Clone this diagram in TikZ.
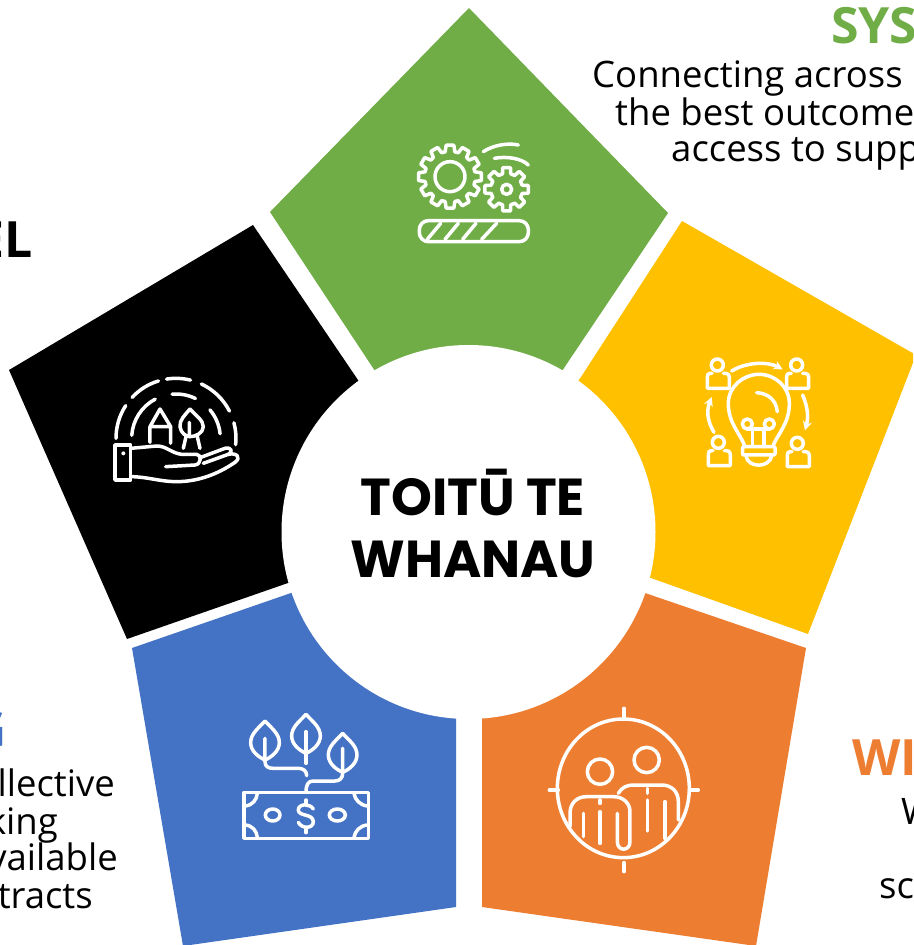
\documentclass[tikz,border=0pt]{standalone}
\usepackage{fontspec}
\setmainfont{Open Sans}
\newfontfamily\titlefont{Poppins}
\usetikzlibrary{arrows.meta}
\definecolor{cgreen}{HTML}{70AD47}
\definecolor{cyellow}{HTML}{FFC000}
\definecolor{corange}{HTML}{ED7D31}
\definecolor{cblue}{HTML}{4472C4}
\tikzset{
  icon/.style={draw=white,line width=3.5pt,line cap=round,line join=round},
  zoomed/.style={x=0.3333pt,y=-0.3333pt},
  body/.style={font=\fontsize{36.5}{36.5}\selectfont,text=black,inner sep=0pt},
  head/.style={font=\fontsize{50}{50}\selectfont\bfseries,inner sep=0pt},
  title/.style={font=\titlefont\fontsize{52}{52}\selectfont\bfseries,text=black,inner sep=0pt},
}
% gear: cx cy outer root teeth halfwidth-outer halfwidth-root
\newcommand{\mygear}[7]{%
  \draw[icon] ({#1+#4*cos(-#7)},{#2+#4*sin(-#7)})
   \foreach \i in {0,...,\numexpr#5-1\relax}{
     -- ({#1+#4*cos(\i*360/#5-#7)},{#2+#4*sin(\i*360/#5-#7)})
     -- ({#1+#3*cos(\i*360/#5-#6)},{#2+#3*sin(\i*360/#5-#6)})
     -- ({#1+#3*cos(\i*360/#5+#6)},{#2+#3*sin(\i*360/#5+#6)})
     -- ({#1+#4*cos(\i*360/#5+#7)},{#2+#4*sin(\i*360/#5+#7)})
   } -- cycle;}
% person in zoom units
\newcommand{\myperson}[2]{%
  \begin{scope}[shift={(#1,#2)}]
    \draw[icon] (82,60) circle (18);
    \draw[icon] (66,85) -- (60,85) .. controls (54,85) and (52,90) .. (52,96) -- (52,130) -- (118,130) -- (118,96) .. controls (118,90) and (114,85) .. (108,85) -- (100,85);
  \end{scope}}
% dashed ring arc
\newcommand{\myarc}[5]{%
  \draw[icon] ({#1+#3*cos(#4)},{#2-#3*sin(#4)}) arc[start angle=-#4,end angle=-#5,radius=#3];}
\begin{document}
\begin{tikzpicture}[x=1pt,y=-1pt]
\useasboundingbox (0,0) rectangle (913,945);
\clip (0,0) rectangle (913,945);
\fill[white] (0,0) rectangle (913,945);
% petals
\fill[cgreen] (270,212) -- (469,8) -- (668,213) -- (562,371) -- (468,533) -- (375,371) -- cycle;
\fill[cyellow] (682,221) -- (916,355) -- (808,634) -- (651,578) -- (468,533) -- (581,377) -- cycle;
\fill[corange] (645,593) -- (806,648) -- (756,946) -- (482,907) -- (482,700) -- (468,533) -- cycle;
\fill[cblue] (132,648) -- (291,593) -- (468,533) -- (456,700) -- (456,907) -- (183,946) -- cycle;
\fill[black] (253,225) -- (358,380) -- (468,533) -- (288,583) -- (127,639) -- (9,370) -- cycle;
\node[circle,fill=white,minimum size=374pt,inner sep=0pt] (hub) at (468.5,532) {};
\node[title,anchor=base] (t1) at (473,515) {TOITŪ TE};
\node[title,anchor=base] (t2) at (473,577) {WHANAU};
% side texts
\node[head,text=cgreen,anchor=base west] (h1) at (831,43) {SYS};
\node[body,anchor=base west] (b1) at (592,87) {Connecting across};
\node[body,anchor=base west] (b2) at (615,125) {the best outcome};
\node[body,anchor=base west] (b3) at (671,161) {access to supp};
\node[head,text=black,anchor=base east] (h2) at (32.5,257) {EL};
\node[head,text=cblue,anchor=base east] (h3) at (7,747) {G};
\node[body,anchor=base east] (l1) at (115,796) {llective};
\node[body,anchor=base east] (l2) at (58,834) {king};
\node[body,anchor=base east] (l3) at (118,870) {vailable};
\node[body,anchor=base east] (l4) at (93,908) {tracts};
\node[head,text=corange,anchor=base west] (h4) at (852,775) {WI};
\node[body,anchor=base west] (r1) at (901,824) {W};
\node[body,anchor=base west] (r2) at (879,898) {sc};
% gears
\begin{scope}[shift={(400,130)},zoomed]
  \mygear{150}{140}{95}{76}{12}{7}{11}
  \draw[icon] (150,140) circle (45);
  \mygear{320}{178}{66}{48}{8}{10}{15}
  \draw[icon] (320,178) circle (15);
  \draw[icon] (250,65) .. controls (280,45) and (325,38) .. (355,45);
  \draw[icon] (283,85) .. controls (320,78) and (365,85) .. (385,105);
  \draw[icon,rounded corners=9pt] (58,272) rectangle (385,335);
  \draw[icon] (82,328) -- (122,280) (135,328) -- (175,280) (188,328) -- (228,280) (245,328) -- (290,280);
\end{scope}
% bulb
\begin{scope}[shift={(690,345)},zoomed]
  \myperson{0}{0}
  \myperson{238}{0}
  \myperson{3}{232}
  \myperson{240}{235}
  \draw[icon] (163,300) .. controls (150,265) and (115,235) .. (115,175) .. controls (115,125) and (160,88) .. (207,88) .. controls (255,88) and (298,125) .. (298,175) .. controls (298,235) and (265,265) .. (250,300);
  \draw[icon,rounded corners=1pt] (158,305) rectangle (255,330);
  \draw[icon] (168,332) .. controls (172,370) and (240,370) .. (245,332);
  \draw[icon] (200,143) .. controls (235,145) and (258,165) .. (262,200);
  \draw[icon] (172,237) circle (15) (238,237) circle (15);
  \draw[icon] (172,252) -- (238,252) (187,252) -- (187,305) (222,252) -- (222,305);
  \draw[icon,-{Stealth[length=9pt,width=9pt]}] (125,78) .. controls (170,50) and (235,50) .. (278,73);
  \draw[icon,-{Stealth[length=9pt,width=9pt]}] (338,150) .. controls (355,190) and (355,220) .. (345,256);
  \draw[icon,-{Stealth[length=9pt,width=9pt]}] (72,262) .. controls (50,225) and (50,195) .. (65,156);
\end{scope}
% people
\begin{scope}[shift={(530,695)},zoomed]
  \draw[icon] (280,280) ellipse [x radius=198,y radius=208];
  \draw[icon] (282,40) -- (282,68) (282,503) -- (282,530) (58,285) -- (85,285) (478,285) -- (505,285);
  \draw[icon] (210,230) circle (38) (350,195) circle (38);
  \draw[icon] (120,395) -- (120,355) .. controls (120,325) and (140,305) .. (170,305) -- (250,305) .. controls (280,305) and (300,325) .. (300,350) -- (300,440) .. controls (300,470) and (262,470) .. (262,440) -- (262,355);
  \draw[icon] (160,355) -- (160,425) (210,350) -- (210,445) (210,315) -- (210,325);
  \draw[icon] (265,295) .. controls (275,278) and (290,270) .. (310,270) -- (395,270) .. controls (425,270) and (445,290) .. (445,320) -- (445,375);
  \draw[icon] (352,315) -- (352,408) (405,320) -- (405,430) (352,280) -- (352,295);
\end{scope}
% money
\begin{scope}[shift={(230,705)},zoomed]
  \draw[icon] (42,262) rectangle (415,400);
  \foreach \lx/\ly in {105/48,228/28,338/85}{
    \draw[icon] (\lx,\ly) .. controls ({\lx-20},{\ly+22}) and ({\lx-43},{\ly+38}) .. ({\lx-43},{\ly+65}) .. controls ({\lx-43},{\ly+90}) and ({\lx-20},{\ly+108}) .. (\lx,{\ly+117}) .. controls ({\lx+20},{\ly+108}) and ({\lx+43},{\ly+90}) .. ({\lx+43},{\ly+65}) .. controls ({\lx+43},{\ly+38}) and ({\lx+20},{\ly+22}) .. (\lx,\ly);
  }
  \draw[icon] (105,100) -- (105,170) .. controls (105,185) and (115,190) .. (130,190) -- (205,190) .. controls (220,190) and (230,198) .. (230,212);
  \draw[icon] (228,80) -- (228,175);
  \draw[icon] (338,130) -- (338,205) .. controls (338,220) and (328,228) .. (315,228) -- (250,228) .. controls (235,228) and (228,238) .. (228,262);
  \draw[icon] (128,330) ellipse [x radius=22,y radius=18];
  \draw[icon] (322,330) ellipse [x radius=24,y radius=18];
  \draw[icon] (250,312) .. controls (240,295) and (205,295) .. (205,315) .. controls (205,335) and (250,325) .. (250,350) .. controls (250,372) and (215,372) .. (205,352);
  \draw[icon] (228,285) -- (228,298) (228,372) -- (228,383);
  \draw[icon] (82,265) .. controls (80,285) and (68,300) .. (46,303);
  \draw[icon] (372,265) .. controls (375,285) and (390,300) .. (412,303);
  \draw[icon] (46,360) .. controls (68,362) and (80,378) .. (82,397);
  \draw[icon] (412,360) .. controls (390,362) and (375,378) .. (372,397);
\end{scope}
% hand
\begin{scope}[shift={(100,365)},zoomed]
  \myarc{228}{220}{180}{180}{147}
  \myarc{228}{220}{180}{137}{107}
  \myarc{228}{220}{180}{99}{76}
  \myarc{228}{220}{180}{65}{27}
  \myarc{228}{220}{180}{15}{-6}
  \myarc{228}{220}{133}{176}{118}
  \myarc{228}{220}{133}{95}{64}
  \myarc{228}{220}{133}{40}{6}
  \draw[icon] (45,240) rectangle (92,345);
  \fill[white] (70,265) circle (6);
  \draw[icon] (92,250) -- (170,243) .. controls (200,243) and (215,265) .. (245,268) -- (290,268) .. controls (305,268) and (305,298) .. (285,300) -- (197,305);
  \draw[icon] (300,278) -- (375,250) .. controls (395,245) and (400,262) .. (385,268) -- (310,295);
  \draw[icon] (385,268) .. controls (410,262) and (425,278) .. (405,292) .. controls (350,330) and (290,350) .. (230,350) .. controls (180,350) and (140,335) .. (92,335);
  \draw[icon] (150,232) -- (150,185) -- (180,132) -- (212,185) -- (212,235) (150,185) -- (212,185);
  \draw[icon] (270,132) .. controls (255,150) and (238,165) .. (240,185) .. controls (242,205) and (260,215) .. (270,215) .. controls (285,215) and (310,205) .. (310,185) .. controls (310,165) and (285,150) .. (270,132);
  \draw[icon] (268,172) -- (268,215) (258,215) -- (250,250) (292,215) -- (300,250);
\end{scope}
\end{tikzpicture}
\end{document}
